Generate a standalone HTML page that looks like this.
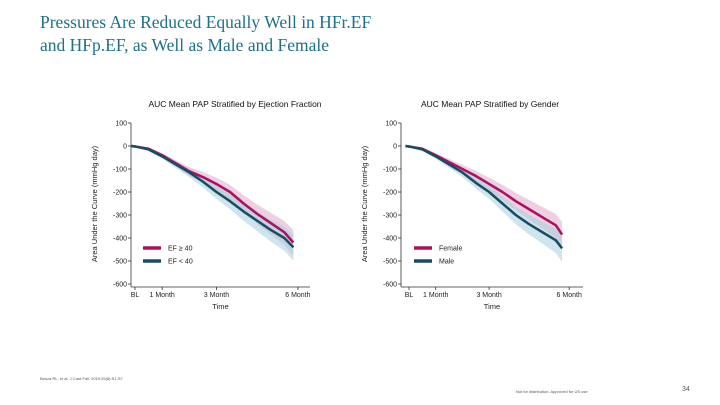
<!DOCTYPE html>
<html><head><meta charset="utf-8"><style>
body{margin:0;background:#fff;width:720px;height:405px;overflow:hidden;position:relative;font-family:"Liberation Sans",sans-serif}
.title{position:absolute;left:40px;top:11px;font-family:"Liberation Serif",serif;font-size:17.5px;line-height:23px;color:#1d6f8c}
.foot{position:absolute;font-size:4px;color:#555}
</style></head><body>
<div class="title">Pressures Are Reduced Equally Well in HFr.EF<br>and HFp.EF, as Well as Male and Female</div>
<div class="foot" style="left:40px;top:376px">Benza RL, et al. J Card Fail. 2019;25(8):S1-S7</div>
<div class="foot" style="left:516px;top:389px">Not for distribution. Approved for US use</div>
<div class="foot" style="left:682px;top:386px;font-size:7px">34</div>
<svg id="svg" width="720" height="405" style="position:absolute;left:0;top:0"></svg>
<script>
const yTicks=[100,0,-100,-200,-300,-400,-500,-600];
const xTickLabels=["BL","1 Month","3 Month","6 Month"];
const xTickDays=[0,30,90,180];
const days=[-4,0,15,30,45,60,75,90,105,120,135,150,165,175];
const daysR=[-4,0,15,30,45,60,75,90,105,120,135,150,165,172];
const efPres=[0,-2,-12,-40,-75,-110,-135,-165,-200,-250,-295,-335,-375,-420];
const efRed=[0,-2,-15,-45,-80,-115,-155,-200,-240,-285,-325,-365,-400,-440];
const female=[0,-2,-12,-40,-70,-100,-130,-165,-200,-240,-275,-310,-345,-385];
const male=[0,-2,-15,-45,-80,-115,-160,-200,-250,-300,-340,-375,-410,-445];
const band=[0,1,5,10,15,20,25,30,35,40,45,50,55,60];
const NS="http://www.w3.org/2000/svg";
const svg=document.getElementById('svg');
function mk(t,a,p){const e=document.createElementNS(NS,t);for(const k in a)e.setAttribute(k,a[k]);(p||svg).appendChild(e);return e;}
function chart(cfg){
 const g=mk('g',{});
 
 
 const X=d=>cfg.x0+d*cfg.kx, Y=v=>146-v*0.23;
 cfg.series.forEach(s=>{
  let up=s.vals.map((v,i)=>X(cfg.days[i])+','+Y(v+band[i]*0.9)).join(' ');
  let lo=s.vals.map((v,i)=>X(cfg.days[i])+','+Y(v-band[i])).reverse().join(' ');
  const b=mk('polygon',{points:up+' '+lo,fill:s.band,opacity:0.55},g);
  
  
 });
 cfg.series.forEach(s=>{
  const l=mk('polyline',{points:s.vals.map((v,i)=>X(cfg.days[i])+','+Y(v)).join(' '),fill:'none',stroke:s.color,'stroke-width':2.5,'stroke-linejoin':'round'},g);
  
  
 });
 mk('line',{x1:cfg.ax,y1:Y(100),x2:cfg.ax,y2:287,stroke:'#333','stroke-width':0.8},g);
 mk('line',{x1:cfg.ax,y1:287,x2:cfg.xe,y2:287,stroke:'#333','stroke-width':0.8},g);
 yTicks.forEach(v=>{
  mk('line',{x1:cfg.ax-3,y1:Y(v),x2:cfg.ax,y2:Y(v),stroke:'#333','stroke-width':0.8},g);
  const t=mk('text',{x:cfg.ax-4,y:Y(v)+2.5,'font-size':7,'text-anchor':'end',fill:'#222'},g);t.textContent=v;
  
  
 });
 xTickDays.forEach((d,i)=>{
  mk('line',{x1:X(d),y1:287,x2:X(d),y2:290,stroke:'#333','stroke-width':0.8},g);
  const t=mk('text',{x:X(d),y:297,'font-size':7,'text-anchor':'middle',fill:'#222'},g);t.textContent=xTickLabels[i];
  
  
 });
 const tt=mk('text',{x:(cfg.ax+cfg.xe)/2,y:309,'font-size':7.5,'text-anchor':'middle',fill:'#222'},g);tt.textContent='Time';
 
 
 const yt=mk('text',{x:0,y:0,'font-size':7.5,'text-anchor':'middle',fill:'#222',transform:`translate(${cfg.ax-34},204) rotate(-90)`},g);yt.textContent='Area Under the Curve (mmHg day)';
 
 
 const ti=mk('text',{x:cfg.tx,y:107,'font-size':8.5,'text-anchor':'middle',fill:'#111'},g);ti.textContent=cfg.title;
 
 
 cfg.series.forEach((s,i)=>{
  const yy=248+i*13;
  mk('line',{x1:cfg.lx,y1:yy,x2:cfg.lx+18,y2:yy,stroke:s.color,'stroke-width':3.5},g);
  const t=mk('text',{x:cfg.lx+25,y:yy+2.5,'font-size':7,fill:'#222'},g);t.textContent=s.label;
  
  
 });
}
chart({name:'ejection-fraction-chart',x0:135,kx:0.905,ax:131,xe:310,days:days,tx:235,lx:143,title:'AUC Mean PAP Stratified by Ejection Fraction',
 series:[{key:'ef-preserved',label:'EF ≥ 40',vals:efPres,color:'#a8125e',band:'#e2a9cc'},{key:'ef-reduced',label:'EF < 40',vals:efRed,color:'#174d62',band:'#a8cddd'}]});
chart({name:'gender-chart',x0:409,kx:0.89,ax:401,xe:583,days:daysR,tx:490,lx:414,title:'AUC Mean PAP Stratified by Gender',
 series:[{key:'female',label:'Female',vals:female,color:'#a8125e',band:'#e2a9cc'},{key:'male',label:'Male',vals:male,color:'#174d62',band:'#a8cddd'}]});
</script>
</body></html>
